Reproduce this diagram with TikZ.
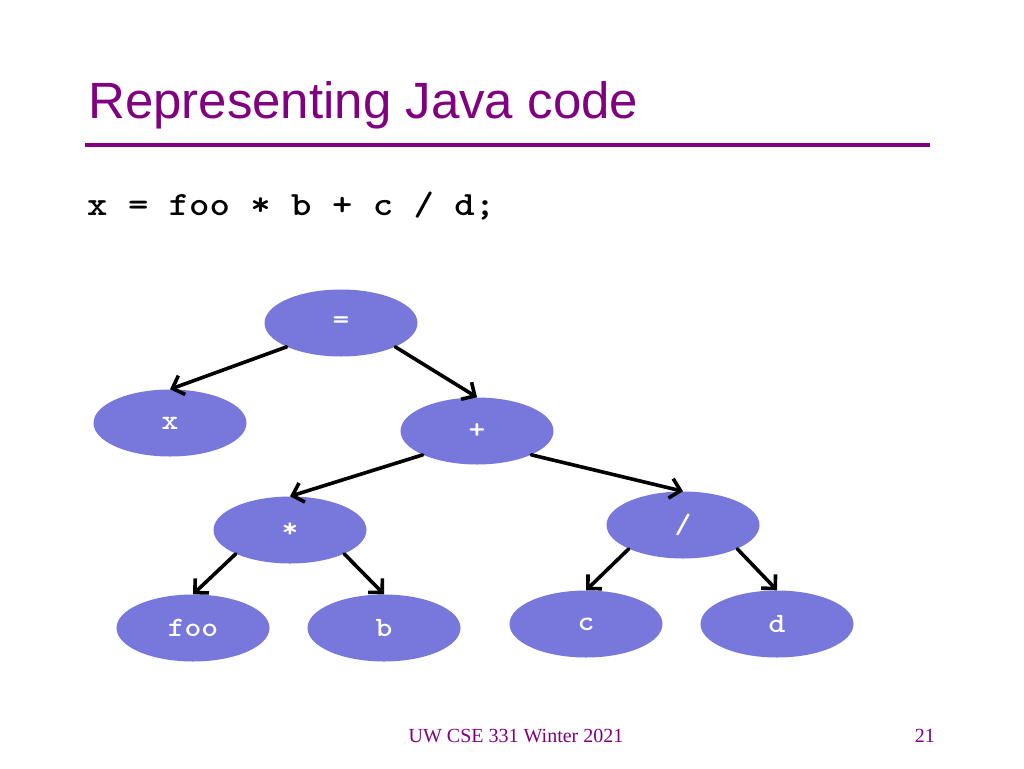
\documentclass[tikz,border=0pt]{standalone}
\usepackage{fontspec}
\setmainfont{Liberation Serif}
\setsansfont{Liberation Sans}
\usepackage{graphicx}
\newcommand{\stretchcode}[1]{\scalebox{1.143}[1]{#1}}
\usetikzlibrary{shapes.geometric,arrows.meta}
\definecolor{ttl}{RGB}{128,0,128}
\definecolor{nodefill}{RGB}{120,120,220}
\begin{document}
\begin{tikzpicture}[x=1pt,y=-1pt,
  treenode/.style={ellipse,fill=nodefill,minimum width=153pt,minimum height=67pt,inner sep=0pt,
    text=white,font=\fontsize{28}{32}\selectfont\ttfamily\bfseries},
  edge/.style={line width=3.6pt,line cap=round,line join=round,
    -{Straight Barb[length=10pt,width=20pt,line width=3.6pt]}}]
\useasboundingbox (0,0) rectangle (1024,768);
\fill[white] (0,0) rectangle (1024,768);
\node[anchor=base west,inner sep=0pt,text=ttl,font=\fontsize{51}{60}\selectfont\sffamily] (title) at (88,118) {Representing Java code};
\draw[ttl,line width=4pt] (85,145) coordinate (l1) -- (930,145) coordinate (l2);
\node[anchor=base west,inner sep=0pt,font=\fontsize{34}{40}\selectfont\ttfamily\bfseries] (code) at (87,215) {\stretchcode{x = foo * b + c / d;}};
\node[treenode] (eq) at (341,323) {\stretchcode{=}};
\node[treenode] (x) at (170,423) {\stretchcode{x}};
\node[treenode] (plus) at (477,431) {\stretchcode{+}};
\node[treenode] (star) at (290,530) {\stretchcode{*}};
\node[treenode] (slash) at (683,525) {\stretchcode{/}};
\node[treenode] (foo) at (193,628) {\stretchcode{foo}};
\node[treenode] (b) at (384,628) {\stretchcode{b}};
\node[treenode] (c) at (586,624) {\stretchcode{c}};
\node[treenode] (d) at (777,624) {\stretchcode{d}};
\draw[edge] (eq.south west) -- (x.north);
\draw[edge] (eq.south east) -- (plus.north);
\draw[edge] (plus.south west) -- (star.north);
\draw[edge] (plus.south east) -- (slash.north);
\draw[edge] (star.south west) -- (foo.north);
\draw[edge] (star.south east) -- (b.north);
\draw[edge] (slash.south west) -- (c.north);
\draw[edge] (slash.south east) -- (d.north);
\node[anchor=base,inner sep=0pt,text=ttl,font=\fontsize{20}{24}\selectfont] (foot) at (516,742) {UW CSE 331 Winter 2021};
\node[anchor=base east,inner sep=0pt,text=ttl,font=\fontsize{20}{24}\selectfont] (page) at (935,742) {21};
\end{tikzpicture}
\end{document}
